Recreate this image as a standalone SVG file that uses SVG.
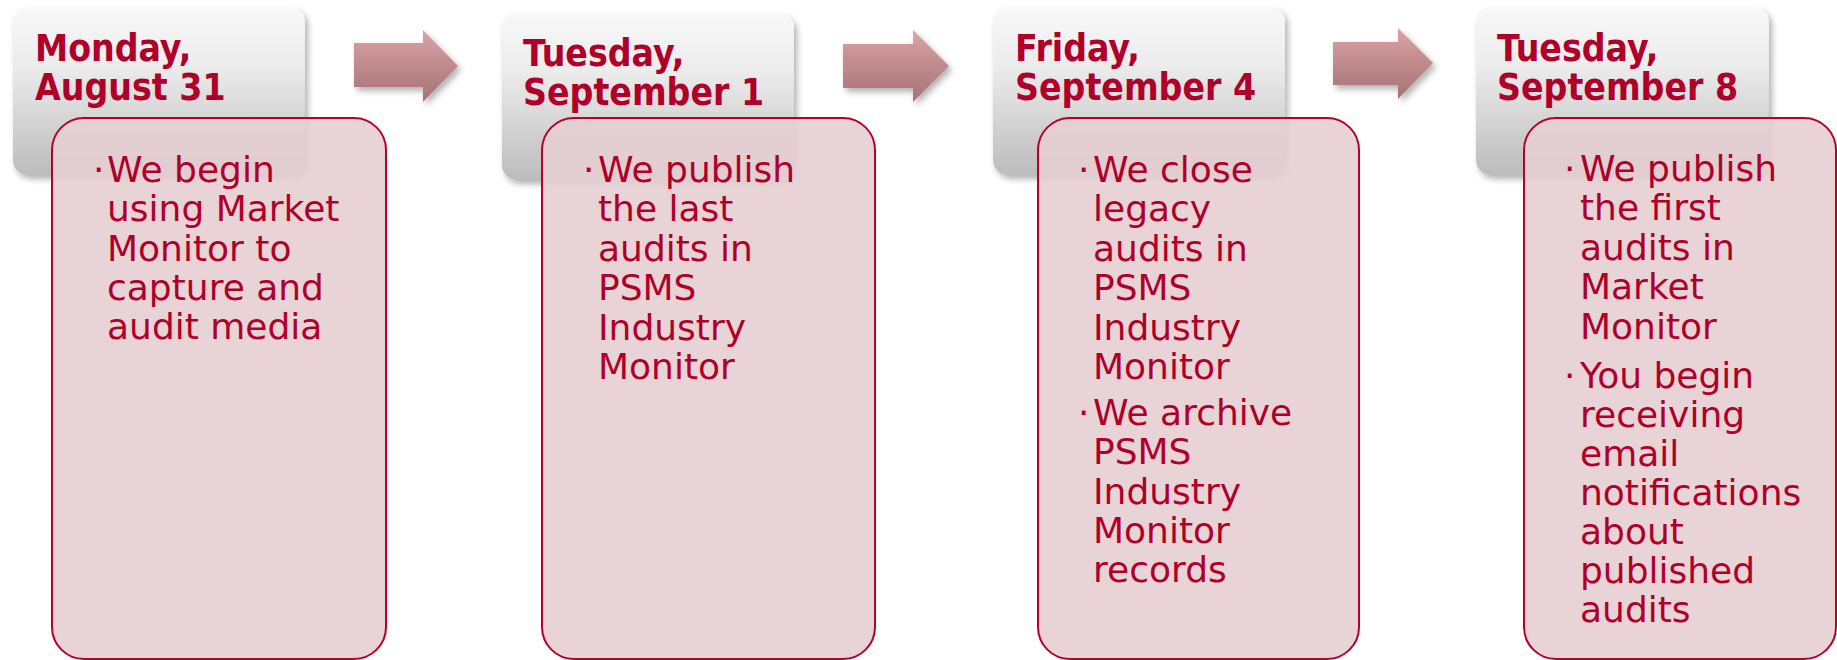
<svg xmlns="http://www.w3.org/2000/svg" width="1837" height="660" viewBox="0 0 1837 660">
<defs>
<linearGradient id="gGray" x1="0" y1="0" x2="0" y2="1">
<stop offset="0" stop-color="#f8f8f8"/>
<stop offset="0.35" stop-color="#ececec"/>
<stop offset="1" stop-color="#bcbcbc"/>
</linearGradient>
<linearGradient id="gArrow" x1="0" y1="0" x2="0" y2="1">
<stop offset="0" stop-color="#dba3a6"/>
<stop offset="1" stop-color="#a57275"/>
</linearGradient>
<filter id="shadow" x="-10%" y="-10%" width="130%" height="140%">
<feDropShadow dx="3" dy="4" stdDeviation="3" flood-color="#000" flood-opacity="0.3"/>
</filter>
</defs>
<style>
.hdr{fill:url(#gGray);filter:url(#shadow)}
.card{fill:#e5cfd2;fill-opacity:0.9;stroke:#b8002a;stroke-width:2}
.arrow{fill:url(#gArrow);filter:url(#shadow)}
.title{font-family:'DejaVu Sans Condensed','DejaVu Sans',sans-serif;font-stretch:condensed;font-weight:bold;font-size:37px;fill:#b0002a}
.body{font-family:'DejaVu Sans',sans-serif;font-size:36px;fill:#b0002a}
</style>
<rect width="1837" height="660" fill="#ffffff"/>

<g id="connectors">
<path class="arrow" d="M354,43 H423 V30 L458,66 L423,102 V87 H354 Z"/>
<path class="arrow" d="M843,44 H913 V30 L949,66 L913,102 V88 H843 Z"/>
<path class="arrow" d="M1333,42 H1398 V28 L1433,63 L1398,99 V85 H1333 Z"/>
</g>

<g id="node1">
<rect class="hdr" x="13" y="7" width="292" height="168" rx="15"/>
<text class="title" x="35" y="61">Monday,</text>
<text class="title" x="35" y="100">August 31</text>
<rect class="card" x="52" y="118" width="334" height="541" rx="32"/>
<text class="body" x="93" y="182">·</text>
<text class="body" x="107" y="182">We begin</text>
<text class="body" x="107" y="221">using Market</text>
<text class="body" x="107" y="261">Monitor to</text>
<text class="body" x="107" y="300">capture and</text>
<text class="body" x="107" y="339">audit media</text>
</g>

<g id="node2">
<rect class="hdr" x="502" y="13" width="292" height="167" rx="15"/>
<text class="title" x="523" y="66">Tuesday,</text>
<text class="title" x="523" y="105">September 1</text>
<rect class="card" x="542" y="118" width="333" height="541" rx="32"/>
<text class="body" x="583" y="182">·</text>
<text class="body" x="598" y="182">We publish</text>
<text class="body" x="598" y="221">the last</text>
<text class="body" x="598" y="261">audits in</text>
<text class="body" x="598" y="300">PSMS</text>
<text class="body" x="598" y="340">Industry</text>
<text class="body" x="598" y="379">Monitor</text>
</g>

<g id="node3">
<rect class="hdr" x="993" y="7" width="292" height="168" rx="15"/>
<text class="title" x="1015" y="61">Friday,</text>
<text class="title" x="1015" y="100">September 4</text>
<rect class="card" x="1038" y="118" width="321" height="541" rx="32"/>
<text class="body" x="1078" y="182">·</text>
<text class="body" x="1093" y="182">We close</text>
<text class="body" x="1093" y="221">legacy</text>
<text class="body" x="1093" y="261">audits in</text>
<text class="body" x="1093" y="300">PSMS</text>
<text class="body" x="1093" y="340">Industry</text>
<text class="body" x="1093" y="379">Monitor</text>
<text class="body" x="1078" y="425">·</text>
<text class="body" x="1093" y="425">We archive</text>
<text class="body" x="1093" y="464">PSMS</text>
<text class="body" x="1093" y="504">Industry</text>
<text class="body" x="1093" y="543">Monitor</text>
<text class="body" x="1093" y="582">records</text>
</g>

<g id="node4">
<rect class="hdr" x="1476" y="7" width="293" height="168" rx="15"/>
<text class="title" x="1497" y="61">Tuesday,</text>
<text class="title" x="1497" y="100">September 8</text>
<rect class="card" x="1524" y="118" width="312" height="541" rx="32"/>
<text class="body" x="1564" y="181">·</text>
<text class="body" x="1580" y="181">We publish</text>
<text class="body" x="1580" y="220">the first</text>
<text class="body" x="1580" y="260">audits in</text>
<text class="body" x="1580" y="299">Market</text>
<text class="body" x="1580" y="339">Monitor</text>
<text class="body" x="1564" y="388">·</text>
<text class="body" x="1580" y="388">You begin</text>
<text class="body" x="1580" y="427">receiving</text>
<text class="body" x="1580" y="466">email</text>
<text class="body" x="1580" y="505">notifications</text>
<text class="body" x="1580" y="544">about</text>
<text class="body" x="1580" y="583">published</text>
<text class="body" x="1580" y="622">audits</text>
</g>
</svg>
